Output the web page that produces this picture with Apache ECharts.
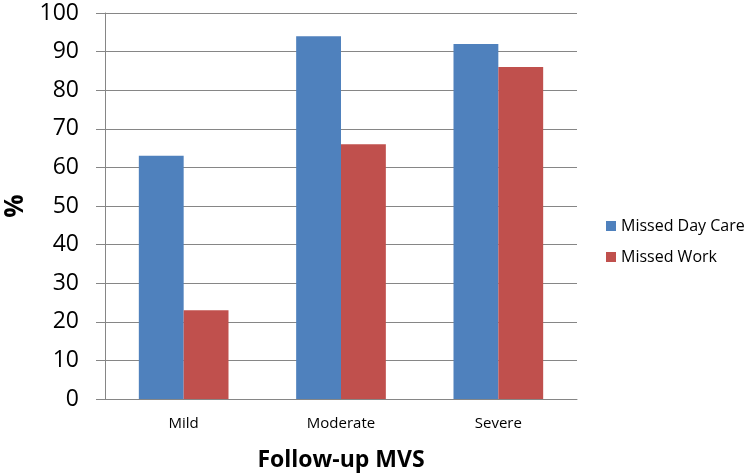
<!DOCTYPE html>
<html><head><meta charset="utf-8">
<script src="https://cdn.jsdelivr.net/npm/echarts@6/dist/echarts.min.js"></script>
<style>html,body{margin:0;padding:0;background:#fff}#c{width:750px;height:476px}</style>
</head><body><div id="c"></div>
<script>
var categories = ['Mild', 'Moderate', 'Severe'];
var missedDayCare = [63, 94, 92];
var missedWork = [23, 66, 86];
var seriesNames = ['Missed Day Care', 'Missed Work'];
var chart = echarts.init(document.getElementById('c'));
var font = "'Open Sans', 'Liberation Sans', sans-serif";
chart.setOption({
  animation: false,
  backgroundColor: '#fff',
  grid: {left: 105, right: 173, top: 13, bottom: 77, containLabel: false, outerBoundsMode: 'none'},
  legend: {
    orient: 'vertical', left: 601, top: 213, itemWidth: 10, itemHeight: 10, itemGap: 15,
    icon: 'rect',
    textStyle: {fontFamily: font, fontSize: 16, color: '#000'},
    data: seriesNames
  },
  xAxis: {
    type: 'category', data: categories,
    name: 'Follow-up MVS', nameLocation: 'middle', nameGap: 50,
    nameTextStyle: {fontFamily: font, fontSize: 23, fontWeight: 'bold', color: '#000'},
    axisLine: {lineStyle: {color: '#868686'}},
    axisTick: {show: false},
    axisLabel: {fontFamily: font, fontSize: 15, color: '#000', margin: 17}
  },
  yAxis: {
    type: 'value', min: 0, max: 100, interval: 10,
    name: '%', nameLocation: 'middle', nameGap: 76, nameRotate: 90,
    nameTextStyle: {fontFamily: font, fontSize: 26, fontWeight: 'bold', color: '#000'},
    axisLine: {show: true, lineStyle: {color: '#868686'}},
    axisTick: {show: true, length: 9, lineStyle: {color: '#868686'}},
    axisLabel: {fontFamily: font, fontSize: 23, color: '#000', margin: 26},
    splitLine: {lineStyle: {color: '#868686'}}
  },
  series: [
    {name: seriesNames[0], type: 'bar', data: missedDayCare, barGap: '0%', barCategoryGap: '43%',
     itemStyle: {color: '#4F81BD'}},
    {name: seriesNames[1], type: 'bar', data: missedWork, barGap: '0%', barCategoryGap: '43%',
     itemStyle: {color: '#C0504D'}}
  ]
});
</script></body></html>
